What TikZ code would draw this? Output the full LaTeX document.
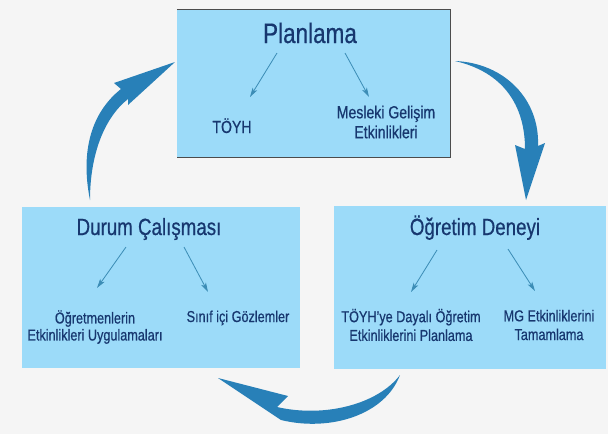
\documentclass[tikz,border=0pt]{standalone}
\usepackage{fontspec}
\setmainfont{Liberation Sans}[FakeStretch=0.8,FakeBold=0.6]
\usetikzlibrary{arrows.meta}

\definecolor{bgray}{HTML}{F5F5F5}
\definecolor{boxblue}{HTML}{9CDBF9}
\definecolor{navy}{HTML}{17376F}
\definecolor{thinblue}{HTML}{3C8DB6}
\definecolor{bigblue}{HTML}{2880B8}

\begin{document}
\begin{tikzpicture}[x=0.03cm, y=-0.03cm,
                    box/.style={fill=boxblue,draw=none,inner sep=0pt},
                    title node/.style={text=navy,anchor=base,font=\fontsize{20}{24}\selectfont},
                    sub node/.style={text=navy,align=center,font=\fontsize{13.5}{16}\selectfont},
                    subarrow/.style={thinblue,line width=0.7pt,-{Stealth[length=8pt,width=4.5pt,inset=2pt]}},
                    bigarrow/.style={fill=bigblue,draw=none}]

  \useasboundingbox[fill=bgray] (0,0) rectangle (608,434);

  % boxes
  \node[box,minimum width=8.19cm,minimum height=4.41cm] (planbox) at (313.5,83.5) {};
  \node[box,minimum width=8.34cm,minimum height=4.83cm] (durumbox) at (161,287.5) {};
  \node[box,minimum width=8.16cm,minimum height=4.89cm] (deneybox) at (470,287.5) {};
  \draw[gray!60!black,line width=0.5pt] (planbox.north west) -- (planbox.north east)
        -- (planbox.south east) -- (planbox.south west);

  % planlama
  \node[title node,font=\fontsize{24}{28}\selectfont] (plan) at (310,43) {Planlama};
  \node[sub node,anchor=base,font=\fontsize{15}{18}\selectfont] (toyh) at (232,133) {TÖYH};
  \node[sub node,font=\fontsize{15}{17}\selectfont] (mgel) at (386,122) {Mesleki Gelişim\\Etkinlikleri};

  % durum calismasi
  \node[title node] (durum) at (149,235) {Durum Çalışması};
  \node[sub node,font=\fontsize{13.5}{14.5}\selectfont] (ogret) at (95,327) {Öğretmenlerin\\Etkinlikleri Uygulamaları};
  \node[sub node,anchor=base] (sinif) at (238,322) {Sınıf içi Gözlemler};

  % ogretim deneyi
  \node[title node] (deney) at (475,235) {Öğretim Deneyi};
  \node[sub node] (dayali) at (411,325) {TÖYH’ye Dayalı Öğretim\\Etkinliklerini Planlama};
  \node[sub node] (mgetk) at (549,325) {MG Etkinliklerini\\Tamamlama};

  \coordinate (p1) at (277,53);  \coordinate (p2) at (250,97);
  \coordinate (p3) at (345,53);  \coordinate (p4) at (369,97);
  \coordinate (d1) at (126,247); \coordinate (d2) at (97,288);
  \coordinate (d3) at (184,247); \coordinate (d4) at (208,292);
  \coordinate (e1) at (437,250); \coordinate (e2) at (411,292);
  \coordinate (e3) at (508,249); \coordinate (e4) at (535,291);

  \draw[subarrow] (p1) -- (p2);
  \draw[subarrow] (p3) -- (p4);
  \draw[subarrow] (d1) -- (d2);
  \draw[subarrow] (d3) -- (d4);
  \draw[subarrow] (e1) -- (e2);
  \draw[subarrow] (e3) -- (e4);

  % cycle arrows
  \fill[bigarrow] (90,200) .. controls (80,150) and (92,112) .. (121,89) -- (114,83)
        -- (175,62) -- (128,105) -- (128,99) .. controls (104,118) and (90,155) .. (90,200) -- cycle;
  \fill[bigarrow] (455,61) .. controls (505,63) and (540,100) .. (538,146) -- (545,143)
        -- (526,200) -- (515,145) -- (525,149) .. controls (525,105) and (503,72) .. (455,61) -- cycle;
  \fill[bigarrow] (400,375) .. controls (385,415) and (330,432) .. (281,420) -- (218,378)
        -- (288,396) -- (277,407) .. controls (325,418) and (378,404) .. (400,375) -- cycle;

\end{tikzpicture}
\end{document}
